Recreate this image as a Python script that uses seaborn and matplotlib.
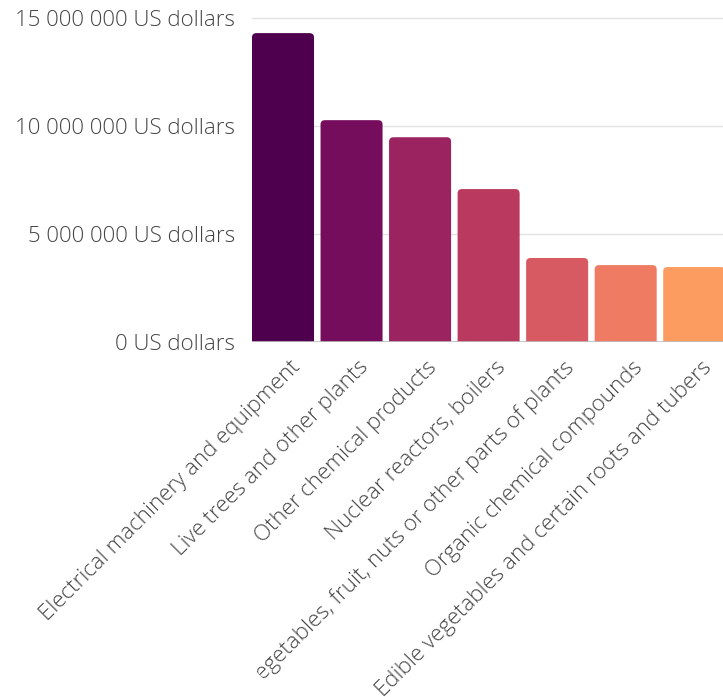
import matplotlib
matplotlib.use("Agg")
import numpy as np
import matplotlib.pyplot as plt
from matplotlib.patches import FancyBboxPatch, Polygon
from matplotlib.transforms import ScaledTranslation, IdentityTransform
import seaborn as sns
import pandas as pd

# Top export product groups, value in US dollars
categories = [
    "Electrical machinery and equipment",
    "Live trees and other plants",
    "Other chemical products",
    "Nuclear reactors, boilers",
    "Vegetables, fruit, nuts or other parts of plants",
    "Organic chemical compounds",
    "Edible vegetables and certain roots and tubers",
]
values = [14_300_000, 10_270_000, 9_480_000, 7_080_000, 3_890_000, 3_560_000, 3_470_000]
y_ticks = [0, 5_000_000, 10_000_000, 15_000_000]
y_tick_labels = ["0 US dollars", "5 000 000 US dollars", "10 000 000 US dollars", "15 000 000 US dollars"]
bar_colors = ["#4e004e", "#760c5c", "#9b2360", "#b93a5e", "#d75a62", "#ee7b62", "#fd9c60"]

df = pd.DataFrame({"category": categories, "value": values})

sns.set_theme(style="white")
plt.rcParams["font.family"] = ["Open Sans", "DejaVu Sans"]

fig = plt.figure(figsize=(7.23, 6.97), dpi=100)
ax = fig.add_axes([252 / 723, 355 / 697, 471 / 723, 324 / 697])

sns.barplot(data=df, x="category", y="value", hue="category", palette=bar_colors,
            saturation=1, legend=False, width=0.905, ax=ax, zorder=2)

ax.set_xlim(-0.4525, 6.42)
ax.set_ylim(0, 15_000_000)

# Swap the plain rectangles for bars with softly rounded corners
radius_x = 0.065
radius_y = 200_000
for bar in list(ax.patches):
    x, w, h = bar.get_x(), bar.get_width(), bar.get_height()
    color = bar.get_facecolor()
    bar.set_visible(False)
    rounded = FancyBboxPatch((x, -3 * radius_y), w, h + 3 * radius_y,
                             boxstyle=f"round,pad=0,rounding_size={radius_x}",
                             mutation_aspect=radius_y / radius_x,
                             facecolor=color, edgecolor="none", zorder=2)
    ax.add_patch(rounded)

ax.set_yticks(y_ticks)
ax.set_yticklabels(y_tick_labels)
ax.set_xlabel("")
ax.set_ylabel("")

for y in y_ticks[1:]:
    ax.axhline(y, color="#e2e2e2", lw=1.0, zorder=0, clip_on=False)
ax.axhline(0, color="#bdbdbd", lw=1.2, zorder=3)

for side in ["top", "right", "left", "bottom"]:
    ax.spines[side].set_visible(False)

ax.tick_params(axis="y", length=0, pad=12, labelsize=16, labelcolor="#444444")
ax.tick_params(axis="x", length=0, pad=16, labelsize=16, labelcolor="#444444")

shift = ScaledTranslation(14 / 100, 0, fig.dpi_scale_trans)
for lab in ax.get_xticklabels():
    lab.set_rotation(45)
    lab.set_ha("right")
    lab.set_va("center")
    lab.set_rotation_mode("anchor")
    lab.set_fontweight("light")
    lab.set_transform(lab.get_transform() + shift)
for lab in ax.get_yticklabels():
    lab.set_fontweight("light")

# The long fifth label runs out of room at the lower left; its first letter
# is masked off square to the reading direction
fig.canvas.draw()
renderer = fig.canvas.get_renderer()
long_label = ax.get_xticklabels()[4]
anchor_x, anchor_y = long_label.get_transform().transform(long_label.get_position())
prop = long_label.get_fontproperties()
full_w, _, _ = renderer.get_text_width_height_descent(long_label.get_text(), prop, ismath=False)
first_w, _, _ = renderer.get_text_width_height_descent(long_label.get_text()[0], prop, ismath=False)
right_edge = (anchor_x + anchor_y) / np.sqrt(2)
cut = (right_edge - full_w + first_w + 0.8) * np.sqrt(2)
mask = Polygon([(cut - 120, 0), (cut, 0), (cut - 120, 120)], closed=True,
               transform=IdentityTransform(), facecolor="white",
               edgecolor="none", zorder=10)
fig.add_artist(mask)

fig.savefig("out.png", dpi=100)
